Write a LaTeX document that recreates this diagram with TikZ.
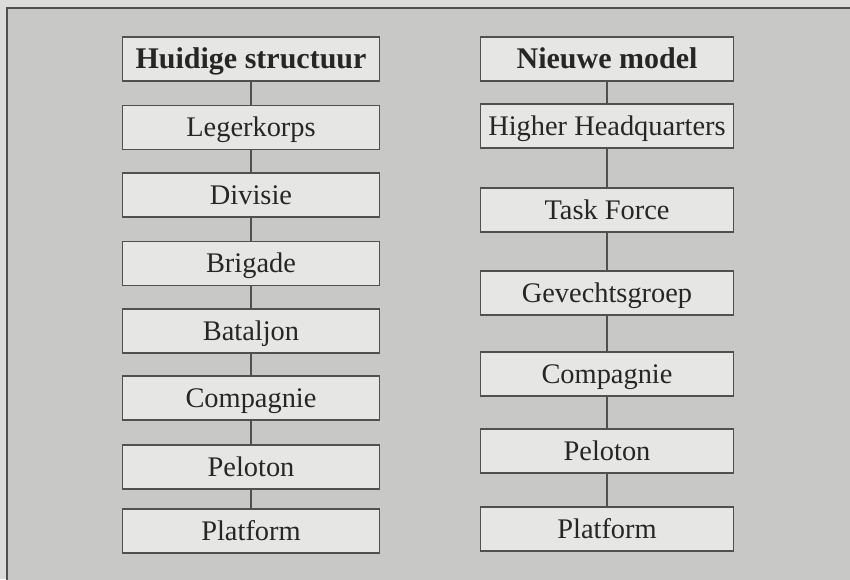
\documentclass[tikz,border=0pt]{standalone}
\usepackage{fontspec}
\setmainfont{Liberation Serif}
\definecolor{outer}{HTML}{DCDCDA}
\definecolor{panel}{HTML}{C8C8C6}
\definecolor{boxfill}{HTML}{E6E6E4}
\definecolor{ink}{HTML}{505050}
\tikzset{
  orgbox/.style={draw=ink, line width=1.1pt, fill=boxfill, rectangle, inner sep=0pt,
    minimum height=44pt, text height=18.8pt, text depth=0pt,
    font=\fontsize{28.4}{30}\selectfont, text=black!85},
  leftbox/.style={orgbox, minimum width=257pt},
  rightbox/.style={orgbox, minimum width=253pt},
  headfont/.style={font=\fontsize{30}{32}\selectfont\bfseries, text height=19.9pt},
  link/.style={draw=ink, line width=1.1pt}
}
\begin{document}
\begin{tikzpicture}[x=1pt,y=-1pt]
\useasboundingbox (0,0) rectangle (850,579);
\fill[outer] (0,0) rectangle (850,579);
\fill[panel] (7,8) rectangle (852,581);
\draw[ink, line width=1.2pt] (7,581) -- (7,8) -- (852,8);
% left column
\node[leftbox, headfont] (h) at (251,59) {Huidige structuur};
\node[leftbox] (lk) at (251,127.5) {Legerkorps};
\node[leftbox] (dv) at (251,195) {Divisie};
\node[leftbox] (br) at (251,263.5) {Brigade};
\node[leftbox] (bt) at (251,331) {Bataljon};
\node[leftbox] (cl) at (251,398) {Compagnie};
\node[leftbox] (pl) at (251,467) {Peloton};
\node[leftbox] (fl) at (251,531) {Platform};
% right column
\node[rightbox, headfont] (n) at (607,59) {Nieuwe model};
\node[rightbox] (hh) at (607,126) {Higher Headquarters};
\node[rightbox] (tf) at (607,210) {Task Force};
\node[rightbox] (gg) at (607,293) {Gevechtsgroep};
\node[rightbox] (cr) at (607,374) {Compagnie};
\node[rightbox] (pr) at (607,451) {Peloton};
\node[rightbox] (fr) at (607,529) {Platform};
% connectors
\foreach \a/\b in {h/lk, lk/dv, dv/br, br/bt, bt/cl, cl/pl, pl/fl, n/hh, hh/tf, tf/gg, gg/cr, cr/pr, pr/fr}
  \draw[link] (\a.south) -- (\b.north);
\end{tikzpicture}
\end{document}
